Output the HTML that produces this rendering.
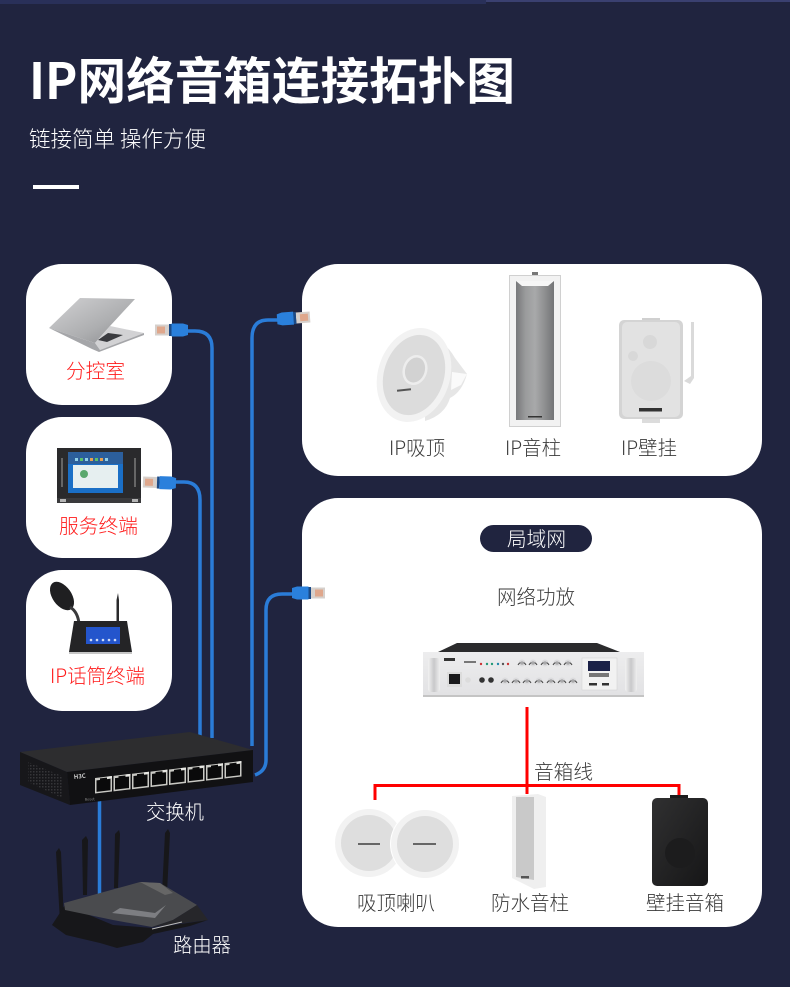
<!DOCTYPE html>
<html><head><meta charset="utf-8"><style>
html,body{margin:0;padding:0;background:#20243f}
svg{display:block}
text{font-family:"Noto Sans CJK SC","Liberation Sans",sans-serif;font-weight:300}
</style></head><body>
<svg xmlns="http://www.w3.org/2000/svg" width="790" height="987" viewBox="0 0 790 987">
<defs>
<linearGradient id="lid" x1="0" y1="0" x2="1" y2="1"><stop offset="0" stop-color="#d2d2d4"/><stop offset=".6" stop-color="#adaeb0"/><stop offset="1" stop-color="#88898c"/></linearGradient>
<linearGradient id="col" x1="0" x2="1" y1="0" y2="0"><stop offset="0" stop-color="#77787a"/><stop offset=".25" stop-color="#9a9b9c"/><stop offset=".5" stop-color="#a8a9aa"/><stop offset=".75" stop-color="#8f9091"/><stop offset="1" stop-color="#737476"/></linearGradient>
<linearGradient id="silver" x1="0" x2="0" y1="0" y2="1"><stop offset="0" stop-color="#ededee"/><stop offset="1" stop-color="#e2e2e4"/></linearGradient>
<linearGradient id="handle" x1="0" x2="1" y1="0" y2="0"><stop offset="0" stop-color="#f2f2f2"/><stop offset=".5" stop-color="#c8c8ca"/><stop offset="1" stop-color="#efefef"/></linearGradient>
<linearGradient id="blackg" x1="0" x2="1" y1="0" y2="1"><stop offset="0" stop-color="#303031"/><stop offset="1" stop-color="#161617"/></linearGradient>
<pattern id="vent" width="3" height="3" patternUnits="userSpaceOnUse"><rect width="1.500" height="1.500" fill="#353538"/></pattern>
<g id="conn">
<rect x="0" y="-5.500" width="14" height="11" fill="#d6d0cc"/><rect x="2" y="-3.500" width="8" height="7" fill="#dfa78c"/>
<rect x="14" y="-6" width="2.500" height="12" fill="#1b4a86"/>
<path d="M16.500-6.500H28L33-5V5L28 6.500H16.500z" fill="#2a80dc"/>
</g>
<g id="port"><rect x="0" y="0" width="17" height="15.500" fill="#c9c9c4"/><rect x="1.500" y="2.500" width="14" height="11.500" fill="#0a0a0b"/><rect x="5" y="1" width="7" height="3" fill="#0a0a0b"/><rect x="12" y="0" width="5" height="2" fill="#e8e8e4"/></g>
<g id="knob"><circle r="3.500" fill="#dcdcde"/><path d="M-4 2A4.500 4.500 0 0 1 4 2" fill="none" stroke="#444" stroke-width="1"/><circle r="1.800" fill="#a8a8aa"/></g>
</defs>

<rect width="790" height="987" fill="#20243f"/>
<rect x="0" y="0" width="486" height="4" fill="#293059"/>
<rect x="486" y="0" width="304" height="2" fill="#3a4070"/>

<text x="29" y="99" font-size="50" style="font-weight:700" fill="#fff" textLength="486" lengthAdjust="spacingAndGlyphs">IP网络音箱连接拓扑图</text>
<text x="29" y="147" font-size="22" fill="#fff" textLength="177" lengthAdjust="spacingAndGlyphs">链接简单 操作方便</text>
<rect x="33" y="185" width="46" height="4" fill="#fff"/>

<!-- cards -->
<rect x="26" y="264" width="146" height="141" rx="36" fill="#fff"/>
<rect x="26" y="417" width="146" height="141" rx="36" fill="#fff"/>
<rect x="26" y="570" width="146" height="141" rx="36" fill="#fff"/>
<rect x="302" y="264" width="460" height="212" rx="36" fill="#fff"/>
<rect x="302" y="498" width="460" height="429" rx="36" fill="#fff"/>

<!-- laptop -->
<path d="M80 298L135 299L110 326L95 343L49 328z" fill="url(#lid)"/>
<path d="M110 326L144 333L100 350L95 343z" fill="#d2d2d4"/>
<path d="M108 333L123 335L107 342L98 340z" fill="#3a3b3f"/>
<path d="M49 328L95 343L100 350L144 333L144 335L99 352L92 349z" fill="#a5a6a9"/>

<!-- server terminal -->
<rect x="57" y="448" width="84" height="55" fill="#2a2a2c"/>
<rect x="61" y="458" width="2" height="29" fill="#666"/><rect x="134" y="458" width="2" height="29" fill="#666"/>
<rect x="68" y="452" width="55" height="41" fill="#1a6fc6"/>
<rect x="68" y="452" width="55" height="12" fill="#2c5f9c"/>
<rect x="73" y="465" width="45" height="23" fill="#e6eff0"/>
<circle cx="84" cy="474" r="4" fill="#5aa86e"/>
<g fill="#8fd0e8"><rect x="75" y="458" width="3" height="3"/><rect x="80" y="458" width="3" height="3" fill="#5cc06a"/><rect x="85" y="458" width="3" height="3"/><rect x="90" y="458" width="3" height="3" fill="#e8a050"/><rect x="95" y="458" width="3" height="3" fill="#5cc06a"/><rect x="100" y="458" width="3" height="3" fill="#e8a050"/><rect x="105" y="458" width="3" height="3"/></g>
<rect x="57" y="498" width="84" height="5" fill="#3a3a3c"/>
<rect x="60" y="499" width="6" height="3" fill="#b5b5b5"/><rect x="132" y="499" width="6" height="3" fill="#b5b5b5"/>

<!-- mic terminal -->
<ellipse cx="62" cy="596" rx="9.500" ry="16" transform="rotate(-35 62 596)" fill="#1f1f21"/>
<path d="M70 607Q78 612 79 624" stroke="#3a3a3c" stroke-width="3" fill="none"/>
<path d="M116.500 600L118 593L119 600V622H116.500z" fill="#2a2a2c"/>
<path d="M74 621H127L132 652H69z" fill="#242426"/>
<rect x="86" y="627" width="34" height="17" fill="#2455cc"/>
<g fill="#cfdcf8"><circle cx="91" cy="640" r="1.300"/><circle cx="97" cy="640" r="1.300"/><circle cx="103" cy="640" r="1.300"/><circle cx="109" cy="640" r="1.300"/><circle cx="115" cy="640" r="1.300"/></g>
<rect x="69" y="652" width="63" height="2" fill="#c6c6c6"/>

<!-- top speakers -->
<path d="M425 335Q445 340 455 358L467 374Q462 392 450 398Q445 415 425 421z" fill="#e6e6e6"/>
<path d="M452 372L467 374L461 385L451 390z" fill="#fafafa"/>
<ellipse cx="414" cy="375" rx="36" ry="48" transform="rotate(18 414 375)" fill="#f2f2f2"/>
<ellipse cx="414" cy="375" rx="30" ry="41" transform="rotate(18 414 375)" fill="#dcdcdc"/>
<ellipse cx="415" cy="370" rx="11" ry="14" transform="rotate(18 415 370)" fill="#d2d2d2" stroke="#ededed" stroke-width="2.500"/>
<rect x="397" y="389" width="14" height="2" fill="#555" transform="rotate(-6 404 390)"/>

<rect x="532" y="272" width="6" height="5" fill="#777"/>
<rect x="509.500" y="275.500" width="51" height="151" fill="#f2f2f2" stroke="#d0d0d0"/>
<rect x="516" y="281" width="38" height="139" fill="url(#col)"/>
<path d="M516 281L522 286H548L554 281z" fill="#f6f6f6"/>
<rect x="528" y="416" width="14" height="1.500" fill="#333"/>

<rect x="642" y="318" width="18" height="4" fill="#d0d0d0"/>
<rect x="642" y="418" width="18" height="5" fill="#dcdcdc"/>
<path d="M691 322H694V378L690 384L684 381L691 376z" fill="#dadada"/>
<rect x="619" y="320" width="64" height="99" rx="5" fill="#d4d4d4"/>
<rect x="622" y="322" width="58" height="95" rx="5" fill="#e2e2e2"/>
<circle cx="650" cy="342" r="7" fill="#d8d8d8"/>
<circle cx="633" cy="356" r="5" fill="#d8d8d8"/>
<circle cx="651" cy="381" r="20" fill="#dcdcdc"/>
<rect x="639" y="408" width="23" height="3.500" fill="#333"/>

<!-- cables -->
<g fill="none" stroke="#2a7cd8" stroke-width="3.500">
<path d="M186 331H195Q212 331 212 348V738"/>
<path d="M174 482H184Q200 482 200 500V736"/>
<path d="M278 320H268Q252 320 252 338V746"/>
<path d="M294 594H282Q266 594 266 610V760Q266 771 255 775"/>
<path d="M99.500 800V895"/>
</g>
<use href="#conn" transform="translate(155 330)"/>
<use href="#conn" transform="translate(143 482) rotate(2)"/>
<use href="#conn" transform="translate(310 317) rotate(176) scale(1 -1)"/>
<use href="#conn" transform="translate(325 593) scale(-1 1)"/>

<!-- switch -->
<path d="M20 752L190 732L253 750L67 772z" fill="#2d2d2f"/>
<path d="M20 752L67 772L70 805L20 785z" fill="#17171a"/>
<path d="M67 772L253 750V782L70 805z" fill="#111113"/>
<path d="M28 762L62 776V798L28 782z" fill="url(#vent)"/>
<g transform="translate(95 778) skewY(-6.600)">
<use href="#port" x="0"/><use href="#port" x="18.500"/><use href="#port" x="37"/><use href="#port" x="55.500"/><use href="#port" x="74"/><use href="#port" x="92.500"/><use href="#port" x="111"/><use href="#port" x="129.500"/>
</g>
<text x="74" y="779" font-size="6" style="font-weight:700" fill="#ccc" transform="rotate(-6 74 779)">H3C</text>
<text x="85" y="801" font-size="4" fill="#aaa" transform="rotate(-5 85 801)">Reset</text>

<!-- router -->
<g fill="#17171a">
<path d="M56 852L59 848L61 852L64 922H60z"/>
<path d="M82 840L86 836L88 840L87 895H83z"/>
<path d="M115 834L119 830L120 834L118 888H114z"/>
<path d="M165 833L168 829L170 833L167 893H162z"/>
</g>
<path d="M52 925L65 905L113 925L153 928L208 920L190 926L153 934L143 942L117 948L100 943L66 935z" fill="#17171a"/>
<path d="M64 903L140 882L160 883L197 905L173 920L152 927L113 920L65 910z" fill="#4a4b4e"/>
<path d="M112 913L155 918L166 905L155 913L120 908z" fill="#7d7e82"/>
<path d="M140 882L160 883L173 893L165 895z" fill="#666"/>
<path d="M197 905L208 920L152 927L173 920z" fill="#26262a"/>
<path d="M152 929L182 922" stroke="#bbb" stroke-width="1"/>

<!-- pill -->
<rect x="480" y="525" width="112" height="27" rx="13.500" fill="#20243f"/>

<!-- amp -->
<path d="M438 652L457 643H597L620 652z" fill="#2b2b2d"/>
<rect x="423" y="652" width="221" height="43" fill="url(#silver)"/>
<rect x="428" y="658" width="12" height="34" rx="3" fill="url(#handle)"/>
<rect x="625" y="658" width="12" height="34" rx="3" fill="url(#handle)"/>
<rect x="447" y="672" width="15" height="15" fill="#dcdcdc"/><rect x="449" y="674" width="11" height="10" fill="#1a1a1c"/>
<rect x="444" y="658" width="11" height="3" fill="#333"/>
<rect x="464" y="661" width="12" height="2" fill="#777"/>
<circle cx="482" cy="680" r="2.800" fill="#333"/><circle cx="491" cy="680" r="2.800" fill="#333"/>
<circle cx="468" cy="680" r="2.800" fill="#dcdcdc"/>
<g><circle cx="481" cy="664" r="1.200" fill="#c33"/><circle cx="487" cy="664" r="1.200" fill="#297"/><circle cx="492" cy="664" r="1.200" fill="#297"/><circle cx="498" cy="664" r="1.200" fill="#28a"/><circle cx="503" cy="664" r="1.200" fill="#555"/><circle cx="508" cy="664" r="1.200" fill="#c33"/></g>
<use href="#knob" x="522" y="663"/><use href="#knob" x="533" y="663"/><use href="#knob" x="545" y="663"/><use href="#knob" x="557" y="663"/><use href="#knob" x="568" y="663"/>
<use href="#knob" x="505" y="681"/><use href="#knob" x="516" y="681"/><use href="#knob" x="527" y="681"/><use href="#knob" x="539" y="681"/><use href="#knob" x="551" y="681"/><use href="#knob" x="562" y="681"/><use href="#knob" x="573" y="681"/>
<rect x="582" y="658" width="35" height="32" fill="#f2f2f2" stroke="#cfcfcf" stroke-width=".5"/>
<rect x="588" y="661" width="22" height="10" fill="#1a2147"/>
<rect x="589" y="673" width="20" height="4" fill="#777"/>
<rect x="589" y="683" width="8" height="2.500" fill="#333"/><rect x="602" y="683" width="7" height="2.500" fill="#333"/>
<rect x="423" y="695" width="221" height="2" fill="#c4c4c4"/>

<!-- red lines -->
<g fill="none" stroke="#ff0000" stroke-width="3">
<path d="M527 707V794"/>
<path d="M375 800V785.500H679V795"/>
</g>

<!-- bottom speakers -->
<circle cx="369" cy="843" r="34" fill="#f2f2f2"/><circle cx="369" cy="843" r="28" fill="#dedede"/>
<rect x="358" y="843" width="22" height="2" fill="#666"/>
<circle cx="425" cy="844" r="35" fill="#fff"/><circle cx="425" cy="844" r="34" fill="#f2f2f2"/><circle cx="425" cy="844" r="28" fill="#dedede"/>
<rect x="413" y="843" width="23" height="2" fill="#666"/>

<path d="M512 796L538 794L546 797V887L534 889L512 878z" fill="#efefef"/>
<path d="M516 797H534V880L516 877z" fill="#c9c9c9"/>
<rect x="521" y="876" width="8" height="2.500" fill="#555"/>

<rect x="670" y="795" width="18" height="4" fill="#1c1c1d"/>
<rect x="652" y="798" width="56" height="88" rx="5" fill="url(#blackg)"/>
<circle cx="680" cy="853" r="15" fill="#1c1c1d"/>

<!-- labels -->
<g font-size="20">
<g fill="#ff1a1a">
<text x="66" y="378" textLength="59" lengthAdjust="spacingAndGlyphs">分控室</text>
<text x="59" y="533" textLength="79" lengthAdjust="spacingAndGlyphs">服务终端</text>
<text x="50" y="683" textLength="95" lengthAdjust="spacingAndGlyphs">IP话筒终端</text>
</g>
<g fill="#3a3a3a">
<text x="389" y="455" textLength="56" lengthAdjust="spacingAndGlyphs">IP吸顶</text>
<text x="505" y="455" textLength="56" lengthAdjust="spacingAndGlyphs">IP音柱</text>
<text x="621" y="455" textLength="56" lengthAdjust="spacingAndGlyphs">IP壁挂</text>
<text x="497" y="604" textLength="78" lengthAdjust="spacingAndGlyphs">网络功放</text>
<text x="534" y="779" textLength="59" lengthAdjust="spacingAndGlyphs">音箱线</text>
<text x="357" y="910" textLength="78" lengthAdjust="spacingAndGlyphs">吸顶喇叭</text>
<text x="491" y="910" textLength="78" lengthAdjust="spacingAndGlyphs">防水音柱</text>
<text x="646" y="910" textLength="78" lengthAdjust="spacingAndGlyphs">壁挂音箱</text>
</g>
<g fill="#fff">
<text x="507" y="546" textLength="59" lengthAdjust="spacingAndGlyphs">局域网</text>
<text x="146" y="819" textLength="58" lengthAdjust="spacingAndGlyphs">交换机</text>
<text x="173" y="952" textLength="58" lengthAdjust="spacingAndGlyphs">路由器</text>
</g>
</g>
</svg>
</body></html>
